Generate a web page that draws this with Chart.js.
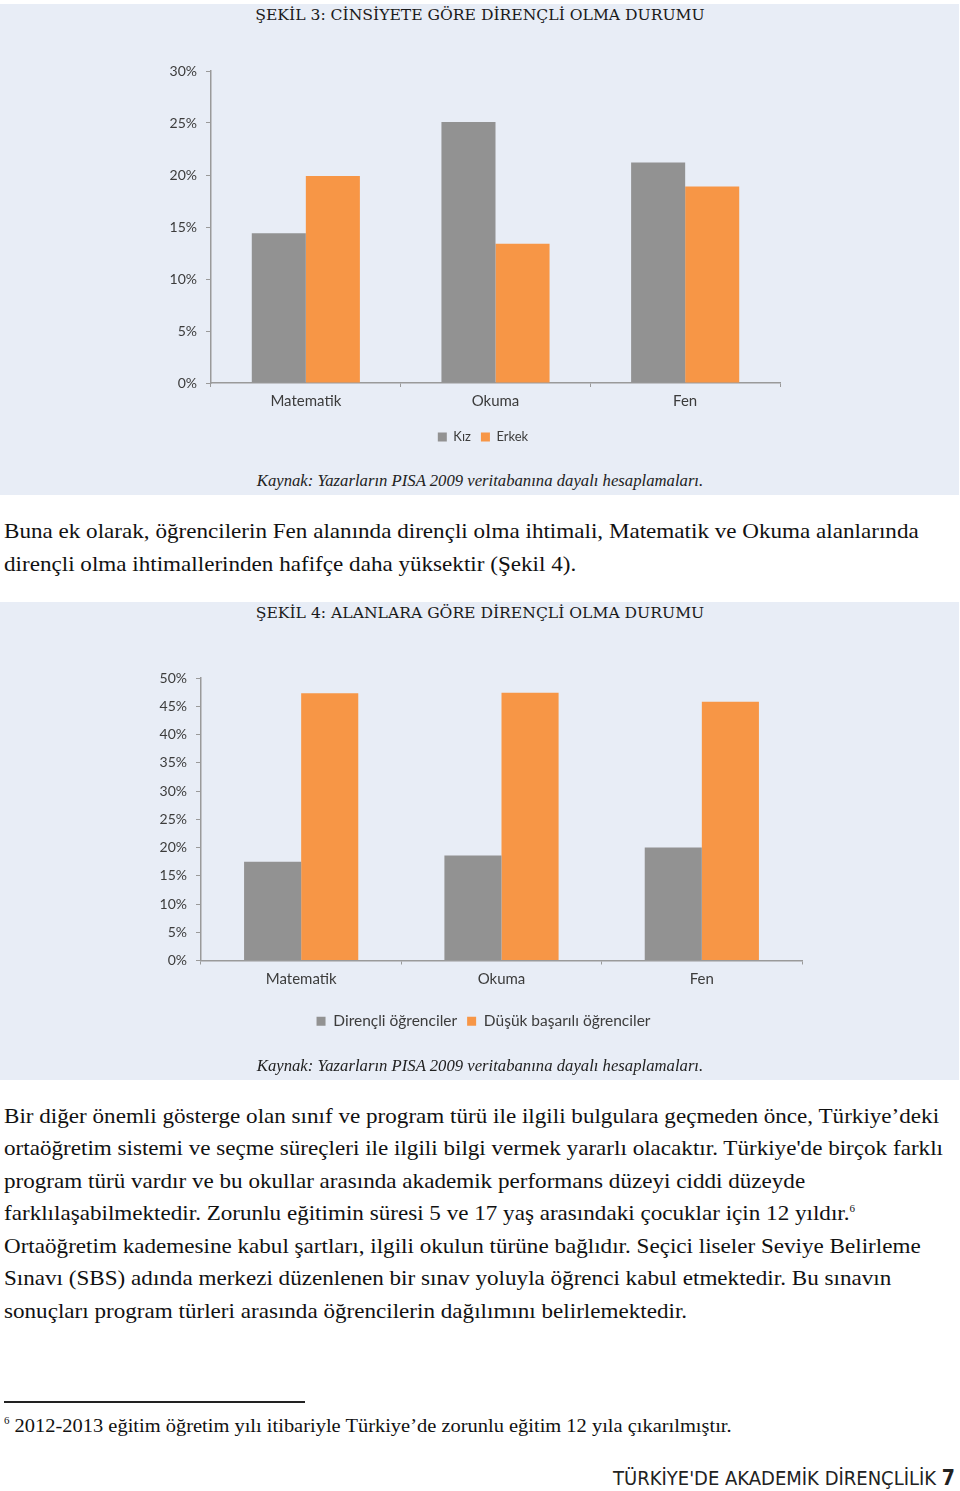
<!DOCTYPE html>
<html>
<head>
<meta charset="utf-8">
<script src="https://cdn.jsdelivr.net/npm/chart.js@4.4.0/dist/chart.umd.min.js"></script>
<style>
  body { margin: 0; width: 960px; height: 1491px; position: relative; background: #fff; overflow: hidden; }
  .panel { position: absolute; left: 0; width: 959px; background: #e8edf6; }
  .title { position: absolute; left: 0; width: 960px; text-align: center; font-family: "DejaVu Serif", serif; font-size: 15.6px; line-height: 20px; color: #1a1a1a; }
  .src { position: absolute; left: 0; width: 960px; text-align: center; font-family: "Liberation Serif", serif; font-style: italic; font-size: 16.7px; line-height: 20px; color: #222; }
  .ln { position: absolute; left: 4px; white-space: nowrap; font-family: "Liberation Serif", serif; font-size: 21px; line-height: 32px; color: #111; transform: scaleX(1.1); transform-origin: 0 0; }
  .box { position: absolute; left: 0; width: 960px; height: 420px; }
  sup { font-size: 10px; vertical-align: 8px; line-height: 0; }
</style>
</head>
<body>

<div class="panel" style="top:4px;height:491px"></div>
<div class="title" style="top:5px">ŞEKİL 3: CİNSİYETE GÖRE DİRENÇLİ OLMA DURUMU</div>
<div class="box" style="top:40px"><canvas id="chart1" width="960" height="420"></canvas></div>
<div class="src" style="top:471px">Kaynak: Yazarların PISA 2009 veritabanına dayalı hesaplamaları.</div>

<div class="ln" style="top:515px">Buna ek olarak, öğrencilerin Fen alanında dirençli olma ihtimali, Matematik ve Okuma alanlarında</div>
<div class="ln" style="top:548px">dirençli olma ihtimallerinden hafifçe daha yüksektir (Şekil 4).</div>

<div class="panel" style="top:602px;height:478px"></div>
<div class="title" style="top:603px">ŞEKİL 4: ALANLARA GÖRE DİRENÇLİ OLMA DURUMU</div>
<div class="box" style="top:640px"><canvas id="chart2" width="960" height="420"></canvas></div>
<div class="src" style="top:1056px">Kaynak: Yazarların PISA 2009 veritabanına dayalı hesaplamaları.</div>

<div class="ln" style="top:1100px">Bir diğer önemli gösterge olan sınıf ve program türü ile ilgili bulgulara geçmeden önce, Türkiye’deki</div>
<div class="ln" style="top:1132px">ortaöğretim sistemi ve seçme süreçleri ile ilgili bilgi vermek yararlı olacaktır. Türkiye'de birçok farklı</div>
<div class="ln" style="top:1165px">program türü vardır ve bu okullar arasında akademik performans düzeyi ciddi düzeyde</div>
<div class="ln" style="top:1197px">farklılaşabilmektedir. Zorunlu eğitimin süresi 5 ve 17 yaş arasındaki çocuklar için 12 yıldır.<sup>6</sup></div>
<div class="ln" style="top:1230px">Ortaöğretim kademesine kabul şartları, ilgili okulun türüne bağlıdır. Seçici liseler Seviye Belirleme</div>
<div class="ln" style="top:1262px">Sınavı (SBS) adında merkezi düzenlenen bir sınav yoluyla öğrenci kabul etmektedir. Bu sınavın</div>
<div class="ln" style="top:1295px">sonuçları program türleri arasında öğrencilerin dağılımını belirlemektedir.</div>

<div style="position:absolute;left:4px;top:1401px;width:301px;height:2px;background:#222"></div>
<div class="ln" style="top:1412px;font-size:18.6px;line-height:28px"><sup>6</sup> 2012-2013 eğitim öğretim yılı itibariyle Türkiye’de zorunlu eğitim 12 yıla çıkarılmıştır.</div>

<div style="position:absolute;right:5px;top:1466px;white-space:nowrap;font-family:'DejaVu Sans Condensed','DejaVu Sans',sans-serif;font-size:20px;line-height:24px;color:#222">TÜRKİYE'DE AKADEMİK DİRENÇLİLİK <b style="font-size:21px">7</b></div>

<script>
const categories = ['Matematik', 'Okuma', 'Fen'];

// Şekil 3
const kiz = [14.4, 25.1, 21.2];
const erkek = [19.9, 13.4, 18.9];

// Şekil 4
const direncli = [17.5, 18.6, 20.0];
const dusukBasarili = [47.3, 47.4, 45.8];

const grey = '#929292';
const orange = '#f79646';
const axisColor = '#9a9a9a';
const textColor = '#3c3c3c';

// move the legend sideways after layout (the legend in the picture is not centred on the plot)
const legendShift = {
  id: 'legendShift',
  afterLayout(chart, args, opts) {
    chart.legend.left += opts.dx;
    chart.legend.right += opts.dx;
  }
};

function makeChart(id, series, yMax, pad, yWidth, xHeight, legendFont, dx) {
  const ctx = document.getElementById(id).getContext('2d');
  return new Chart(ctx, {
    type: 'bar',
    plugins: [legendShift],
    data: {
      labels: categories,
      datasets: series.map(s => ({
        label: s.label,
        data: s.data,
        backgroundColor: s.color,
        borderWidth: 0,
        barPercentage: 1,
        categoryPercentage: 0.57
      }))
    },
    options: {
      responsive: false,
      animation: false,
      layout: { padding: pad },
      plugins: {
        tooltip: { enabled: false },
        legendShift: { dx: dx },
        legend: {
          position: 'bottom',
          labels: {
            boxWidth: 9,
            boxHeight: 9,
            padding: 10,
            color: textColor,
            font: { family: 'Lato', size: legendFont }
          }
        }
      },
      scales: {
        x: {
          grid: { offset: true, drawOnChartArea: false, tickLength: 4, color: axisColor },
          border: { color: axisColor, width: 1.5 },
          ticks: { padding: 5.5, color: textColor, font: { family: 'Lato', size: 15 } },
          afterFit: s => { s.height = xHeight; }
        },
        y: {
          min: 0,
          max: yMax,
          grid: { drawOnChartArea: false, tickLength: 5, color: axisColor },
          border: { color: axisColor, width: 1.5 },
          ticks: {
            stepSize: 5,
            padding: 9,
            color: textColor,
            font: { family: 'Lato', size: 14 },
            callback: v => v + '%'
          },
          afterFit: s => { s.width = yWidth; }
        }
      }
    }
  });
}

makeChart('chart1', [
  { label: 'Kız', data: kiz, color: grey },
  { label: 'Erkek', data: erkek, color: orange }
], 30, { left: 100, right: 180, top: 31, bottom: 6.5 }, 111, 37.5, 13, 43);

makeChart('chart2', [
  { label: 'Dirençli öğrenciler', data: direncli, color: grey },
  { label: 'Düşük başarılı öğrenciler', data: dusukBasarili, color: orange }
], 50, { left: 100, right: 158, top: 38, bottom: 21 }, 101, 43, 15.5, 32.5);
</script>
</body>
</html>
